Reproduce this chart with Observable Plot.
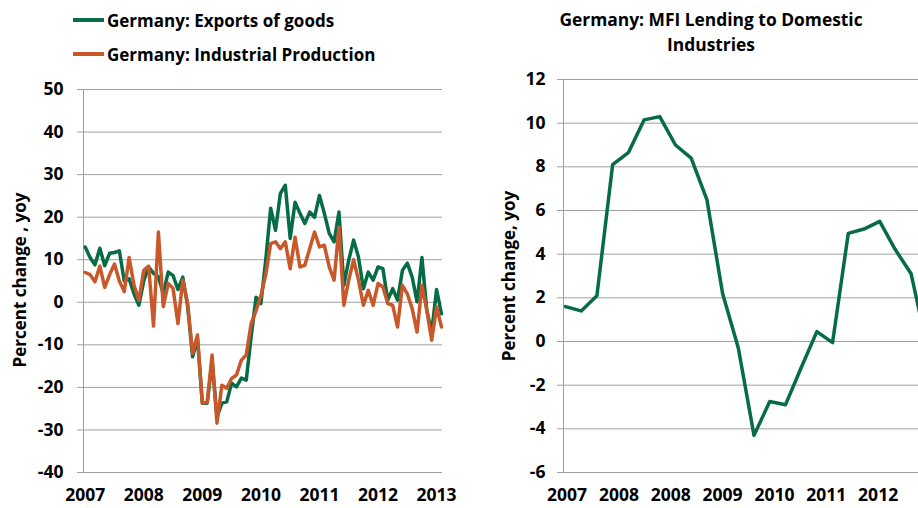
<!DOCTYPE html>
<html><head><meta charset="utf-8">
<script src="https://cdn.jsdelivr.net/npm/d3@7"></script>
<script src="https://cdn.jsdelivr.net/npm/@observablehq/plot@0.6"></script>
<style>
body{margin:0;width:918px;height:508px;overflow:hidden;background:#fff;font-family:"Open Sans",sans-serif;font-weight:bold;position:relative;color:#000}
#left,#right{position:absolute;top:70px}
#left{left:0;width:460px}
#right{left:460px;width:480px}
svg{max-width:none !important}
.leg{position:absolute;left:73px;font-size:17px;display:flex;align-items:center;height:24px;white-space:nowrap}
.sw{width:31px;height:4px;margin-right:3px}
.ytitle{position:absolute;transform:translate(-50%,-50%) rotate(-90deg);white-space:nowrap;font-size:17px}
.title{position:absolute;left:530px;width:362px;text-align:center;font-size:17.4px;line-height:25px;top:7px}
</style>
</head><body>
<div class="leg" style="top:8px"><div class="sw" style="background:#0a6e47"></div>Germany: Exports of goods</div>
<div class="leg" style="top:42px"><div class="sw" style="background:#c8582a"></div>Germany: Industrial Production</div>
<div class="title">Germany: MFI Lending to Domestic<br>Industries</div>
<div class="ytitle" style="left:19px;top:280px">Percent change , yoy</div>
<div class="ytitle" style="left:508px;top:276px">Percent change, yoy</div>
<div id="left"></div>
<div id="right"></div>
<script>
// Left chart: monthly yoy % change, Jan 2007 .. Feb 2013
const exportsYoY = [13.0,10.5,8.8,12.7,8.6,11.5,11.7,12.1,5.0,5.5,2.0,-0.7,
  5.0,8.3,6.8,6.0,2.0,7.1,6.3,3.0,5.9,-1.0,-12.8,-8.5,
  -23.7,-23.7,-14.0,-27.0,-23.7,-23.4,-19.0,-19.9,-17.8,-18.3,-8.1,1.2,
  -0.3,10.0,22.1,16.9,25.6,27.5,15.0,23.5,20.9,18.5,21.2,20.0,
  25.1,20.9,16.2,14.2,21.2,4.0,9.9,14.6,10.6,3.2,7.1,5.2,
  8.3,7.9,0.5,3.2,0.5,7.5,9.2,5.9,0.1,10.5,-1.9,-7.0,3.0,-2.7];
const industrialYoY = [7.0,6.5,4.8,8.5,3.5,6.5,9.0,5.0,2.5,10.5,4.0,0.5,
  7.5,8.5,-5.6,16.5,-1.0,4.4,3.3,-5.0,5.2,-0.3,-12.0,-7.7,
  -23.7,-23.5,-12.4,-28.4,-19.5,-20.2,-17.9,-17.1,-13.6,-12.4,-5.0,-2.0,
  1.5,6.5,13.8,14.2,12.6,14.2,7.9,15.3,8.3,8.7,12.6,16.5,
  13.0,13.4,8.3,5.2,17.7,-0.7,5.2,10.0,5.2,-0.7,2.8,-0.7,
  4.4,3.6,-0.3,-0.7,-5.8,4.0,2.0,-1.5,-7.0,4.0,-1.9,-8.9,-1.1,-5.8];
const leftYears = [2007,2008,2009,2010,2011,2012,2013];
const leftYTicks = [50,40,30,20,10,0,-10,-20,-30,-40];

// Right chart: quarterly MFI lending yoy %
const lendingYoY = [1.6,1.4,2.1,8.1,8.65,10.15,10.3,9.0,8.4,6.5,2.2,-0.3,
  -4.3,-2.75,-2.9,-1.2,0.45,-0.05,4.95,5.15,5.5,4.2,3.1,-0.2];
const rightLabels = ["2007","2008","2008","2009","2010","2011","2012"];
const rightLabelPos = [0.1,3.4,6.7,10,13.3,16.6,19.9];
const rightYTicks = [12,10,8,6,4,2,0,-2,-4,-6];

const GREEN = "#066c45", ORANGE = "#c8582a", GRID = "#a0a0a0";
const font = {fontFamily:"'Open Sans', sans-serif", fontSize:"17.5px", fontWeight:"bold", color:"#000", background:"transparent", overflow:"visible", maxWidth:"none"};

const month = i => 2007 + i/12;
const exp = exportsYoY.map((v,i)=>({x:month(i), y:v}));
const ind = industrialYoY.map((v,i)=>({x:month(i), y:v}));
const lxd = [2006.971, 2013.101];

const left = Plot.plot({
  width:460, height:438, marginLeft:83, marginRight:18, marginTop:19, marginBottom:36,
  x:{domain:lxd}, y:{domain:[-40,50]},
  style:font,
  marks:[
    Plot.gridY(leftYTicks,{stroke:GRID, strokeOpacity:1}),
    Plot.axisY(leftYTicks,{tickSize:6, tickPadding:14, stroke:GRID, label:null, tickFormat:d=>String(d)}),
    Plot.ruleX([lxd[0]],{stroke:GRID}),
    Plot.axisX(leftYears,{tickSize:0, tickPadding:16, label:null, tickFormat:d=>String(d)}),
    Plot.line(exp,{x:"x", y:"y", stroke:GREEN, strokeWidth:3.5, strokeLinejoin:"round"}),
    Plot.line(ind,{x:"x", y:"y", stroke:ORANGE, strokeWidth:3.5, strokeLinejoin:"round"})
  ]
});
document.getElementById("left").append(left);

const lend = lendingYoY.map((v,i)=>({x:i, y:v}));
const rxd = [-0.127, 23.87];
const right = Plot.plot({
  width:480, height:438, marginLeft:103, marginRight:0, marginTop:9, marginBottom:36,
  x:{domain:rxd}, y:{domain:[-6,12]},
  style:font,
  marks:[
    Plot.gridY(rightYTicks,{stroke:GRID, strokeOpacity:1}),
    Plot.axisY(rightYTicks,{tickSize:6, tickPadding:12, stroke:GRID, label:null, tickFormat:d=>String(d)}),
    Plot.ruleX([rxd[0]],{stroke:GRID}),
    Plot.axisX(rightLabelPos,{tickSize:0, tickPadding:16, label:null, tickFormat:(d,i)=>rightLabels[i]}),
    Plot.line(lend,{x:"x", y:"y", stroke:GREEN, strokeWidth:3.5, strokeLinejoin:"round"})
  ]
});
document.getElementById("right").append(right);
</script>
</body></html>
